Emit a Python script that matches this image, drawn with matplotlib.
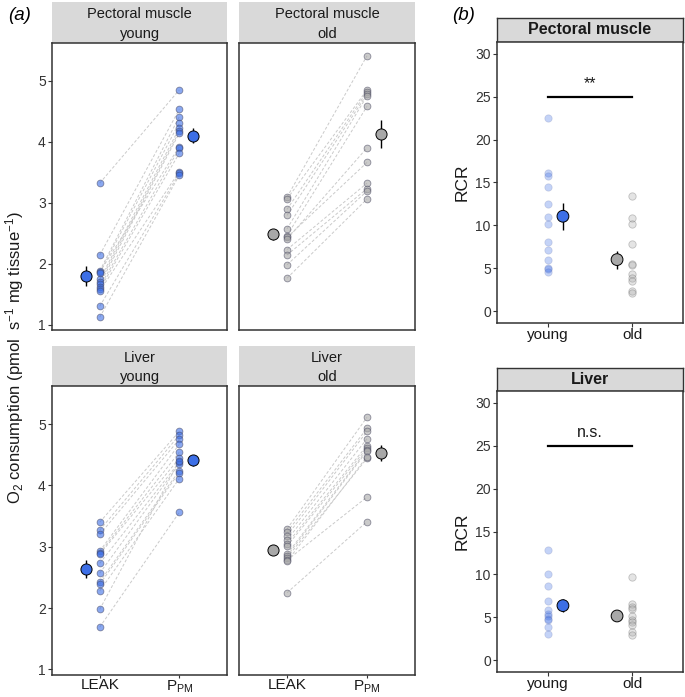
import numpy as np
import matplotlib.pyplot as plt

plt.rcParams['font.family'] = ['Liberation Sans', 'DejaVu Sans']
plt.rcParams['mathtext.fontset'] = 'custom'
plt.rcParams['mathtext.rm'] = 'Liberation Sans'
plt.rcParams['mathtext.it'] = 'Liberation Sans:italic'

# ---- Data: panel (a), paired LEAK / P_PM values ----
pm_young_leak = [3.32, 2.14, 1.88, 1.86, 1.85, 1.74, 1.70, 1.66, 1.62, 1.58, 1.55, 1.30, 1.12]
pm_young_ppm = [4.85, 4.53, 4.41, 3.92, 4.31, 4.22, 4.17, 4.14, 3.89, 3.81, 3.51, 3.48, 3.45]
pm_old_leak = [3.09, 3.06, 2.89, 2.79, 2.57, 2.46, 2.43, 2.40, 2.23, 2.14, 1.98, 1.76]
pm_old_ppm = [5.41, 4.85, 4.82, 4.78, 4.75, 4.58, 3.66, 3.90, 3.32, 3.23, 3.19, 3.06]
lv_young_leak = [3.40, 3.27, 3.20, 2.93, 2.90, 2.88, 2.73, 2.57, 2.43, 2.39, 2.28, 1.98, 1.69]
lv_young_ppm = [4.88, 4.82, 4.75, 4.67, 4.54, 4.44, 4.38, 4.35, 4.24, 4.21, 4.11, 4.40, 3.56]
lv_old_leak = [3.29, 3.24, 3.18, 3.11, 3.05, 3.01, 2.88, 2.85, 2.82, 2.78, 2.76, 2.25]
lv_old_ppm = [5.11, 4.93, 4.88, 4.76, 4.65, 4.61, 4.58, 4.56, 4.44, 3.81, 4.47, 3.41]

# mean +/- SE: (LEAK, P_PM)
pm_young_mean = [1.80, 4.10]
pm_young_se = [0.16, 0.12]
pm_old_mean = [2.48, 4.12]
pm_old_se = [0.09, 0.23]
lv_young_mean = [2.64, 4.41]
lv_young_se = [0.15, 0.09]
lv_old_mean = [2.94, 4.53]
lv_old_se = [0.05, 0.13]

states = ['LEAK', r'P$_{\mathrm{PM}}$']

# ---- Data: panel (b), RCR ----
rcr_pm_young = [22.5, 16.1, 15.8, 14.5, 12.5, 11.0, 10.1, 8.1, 7.1, 5.9, 5.0, 4.85, 4.6]
rcr_pm_old = [13.4, 10.9, 10.1, 7.8, 5.5, 5.4, 4.3, 3.8, 3.5, 2.3, 2.1]
rcr_lv_young = [12.8, 10.05, 8.6, 6.9, 5.85, 5.4, 5.1, 4.8, 4.7, 3.8, 3.0]
rcr_lv_old = [9.7, 6.5, 6.2, 5.9, 5.1, 4.7, 4.4, 4.1, 3.3, 2.9]
rcr_pm_mean = [11.06, 6.0]
rcr_pm_se = [1.6, 1.05]
rcr_lv_mean = [6.35, 5.14]
rcr_lv_se = [0.8, 0.3]
ages = ['young', 'old']

blue = '#3D6FE6'
grey = '#A8A8A8'

W, H = 685, 697
fig = plt.figure(figsize=(W / 100, H / 100), dpi=100)


def box(x0, y0, x1, y1):
    return [x0 / W, 1 - y1 / H, (x1 - x0) / W, (y1 - y0) / H]


def strip(x0, y0, x1, y1, lines, bold=False, border=False):
    s = fig.add_axes(box(x0, y0, x1, y1))
    s.set_facecolor('#D9D9D9')
    s.set_xticks([])
    s.set_yticks([])
    for sp in s.spines.values():
        sp.set_visible(border)
        sp.set_color('#333333')
        sp.set_linewidth(1.0)
    if len(lines) == 2:
        s.text(0.5, 0.70, lines[0], ha='center', va='center', fontsize=10.5, color='#1A1A1A')
        s.text(0.5, 0.22, lines[1], ha='center', va='center', fontsize=10.5, color='#1A1A1A')
    else:
        s.text(0.5, 0.5, lines[0], ha='center', va='center', fontsize=11.5,
               fontweight='bold' if bold else 'normal', color='#1A1A1A')


def style(ax):
    for sp in ax.spines.values():
        sp.set_color('#333333')
        sp.set_linewidth(1.1)
    ax.tick_params(direction='out', length=3, width=0.8, color='#333333', pad=1.5)


def panel_a(rect, leak, ppm, mean, se, col, show_x, show_y):
    ax = fig.add_axes(box(*rect))
    style(ax)
    for a, b in zip(leak, ppm):
        ax.plot([1, 2], [a, b], ls=(0, (3, 2)), color='#CACACA', lw=0.7, zorder=1)
    pt_face = (*plt.matplotlib.colors.to_rgb(col), 0.6)
    ax.scatter(np.ones(len(leak)), leak, s=24, facecolor=pt_face,
               edgecolor=(0.25, 0.25, 0.35, 0.55), lw=0.6, zorder=2)
    ax.scatter(np.full(len(ppm), 2), ppm, s=24, facecolor=pt_face,
               edgecolor=(0.25, 0.25, 0.35, 0.55), lw=0.6, zorder=2)
    xm = [1 - 0.175, 2 + 0.175]
    ax.errorbar(xm, mean, yerr=se, fmt='none', ecolor='black', elinewidth=1.0, zorder=3)
    ax.scatter(xm, mean, s=64, facecolor=col, edgecolor='black', lw=0.7, zorder=4)
    ax.set_xlim(0.4, 2.6)
    ax.set_ylim(0.91, 5.62)
    ax.set_yticks([1, 2, 3, 4, 5])
    ax.set_xticks([1, 2])
    if show_x:
        ax.set_xticklabels(states, fontsize=11, color='#1A1A1A')
        ax.tick_params(axis='x', pad=0, length=2.5)
    else:
        ax.tick_params(axis='x', length=0, labelbottom=False)
    if show_y:
        ax.tick_params(axis='y', labelsize=10, labelcolor='#333333')
    else:
        ax.tick_params(axis='y', length=0, labelleft=False)
    return ax


# Panel (a)
strip(52, 2, 227, 43, ['Pectoral muscle', 'young'])
strip(239, 2, 415, 43, ['Pectoral muscle', 'old'])
strip(52, 346, 227, 386, ['Liver', 'young'])
strip(239, 346, 415, 386, ['Liver', 'old'])
panel_a((52, 43, 227, 330), pm_young_leak, pm_young_ppm, pm_young_mean, pm_young_se, blue, False, True)
panel_a((239, 43, 415, 330), pm_old_leak, pm_old_ppm, pm_old_mean, pm_old_se, grey, False, False)
panel_a((52, 386, 227, 675), lv_young_leak, lv_young_ppm, lv_young_mean, lv_young_se, blue, True, True)
panel_a((239, 386, 415, 675), lv_old_leak, lv_old_ppm, lv_old_mean, lv_old_se, grey, True, False)

fig.text(15 / W, 1 - 358 / H,
         r'O$_2$ consumption (pmol  s$^{-1}$ mg tissue$^{-1}$)',
         rotation=90, ha='center', va='center', fontsize=12, color='#1A1A1A')


def panel_b(rect, young, old, mean, se, label):
    ax = fig.add_axes(box(*rect))
    style(ax)
    fy = (*plt.matplotlib.colors.to_rgb(blue), 0.3)
    fo = (*plt.matplotlib.colors.to_rgb(grey), 0.3)
    ax.scatter(np.ones(len(young)), young, s=28, facecolor=fy,
               edgecolor=(0.3, 0.35, 0.6, 0.2), lw=0.6, zorder=2)
    ax.scatter(np.full(len(old), 2), old, s=28, facecolor=fo,
               edgecolor=(0.3, 0.3, 0.3, 0.3), lw=0.6, zorder=2)
    xm = [1 + 0.18, 2 - 0.18]
    ax.errorbar(xm, mean, yerr=se, fmt='none', ecolor='black', elinewidth=1.0, zorder=3)
    ax.scatter(xm, mean, s=72, facecolor=[blue, grey], edgecolor='black', lw=0.7, zorder=4)
    ax.plot([1, 2], [25, 25], color='black', lw=1.6)
    ax.text(1.5, 25.7, label, ha='center', va='bottom', fontsize=11.5, color='#1A1A1A')
    ax.set_xlim(0.4, 2.6)
    ax.set_ylim(-1.4, 31.4)
    ax.set_yticks([0, 5, 10, 15, 20, 25, 30])
    ax.set_xticks([1, 2])
    ax.set_xticklabels(ages, fontsize=11, color='#1A1A1A')
    ax.tick_params(axis='x', pad=0.5)
    ax.tick_params(axis='y', labelsize=10, labelcolor='#333333')
    ax.set_ylabel('RCR', fontsize=12.5, color='#1A1A1A', labelpad=4)
    return ax


strip(497, 18, 683, 42, ['Pectoral muscle'], bold=True, border=True)
strip(497, 368, 683, 391, ['Liver'], bold=True, border=True)
panel_b((497, 42, 683, 323), rcr_pm_young, rcr_pm_old, rcr_pm_mean, rcr_pm_se, '**')
panel_b((497, 391, 683, 672), rcr_lv_young, rcr_lv_old, rcr_lv_mean, rcr_lv_se, 'n.s.')

fig.text(8 / W, 1 - 15 / H, '(a)', fontsize=13.5, style='italic', ha='left', va='center')
fig.text(452 / W, 1 - 15 / H, '(b)', fontsize=13.5, style='italic', ha='left', va='center')

fig.savefig('out.png', dpi=100)
